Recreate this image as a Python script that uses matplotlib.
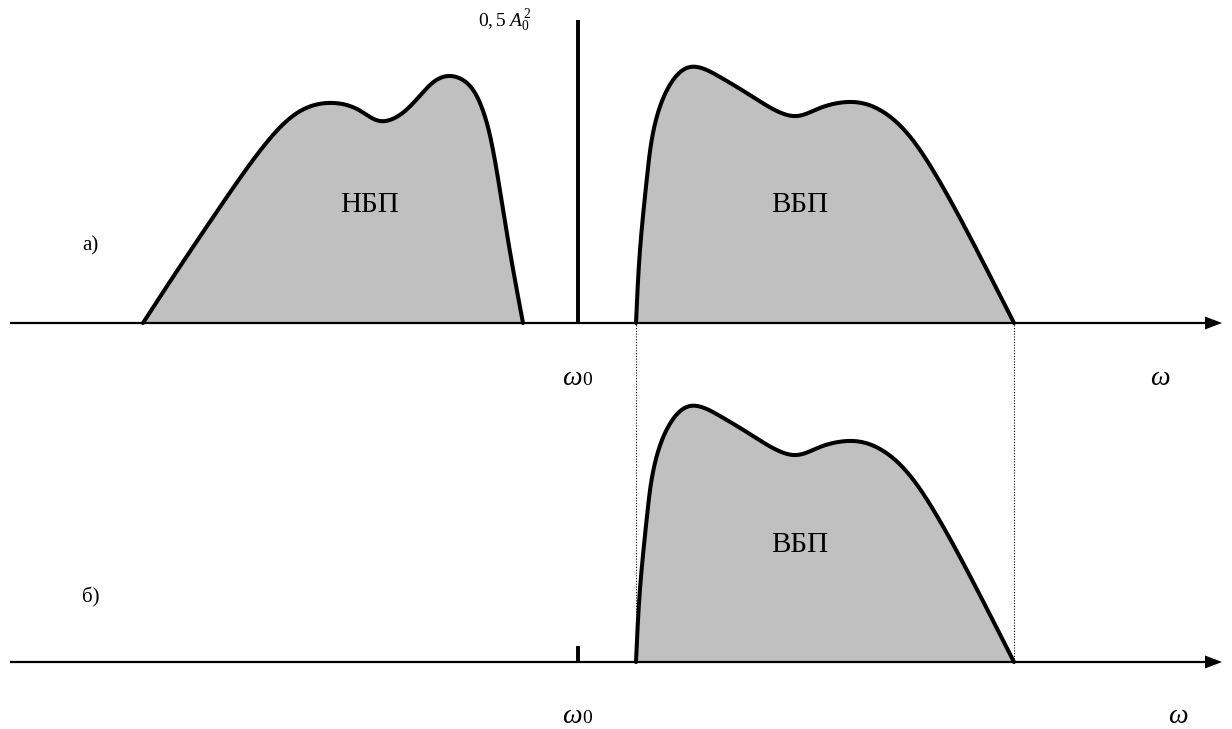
import numpy as np
import matplotlib
matplotlib.use("Agg")
import matplotlib.pyplot as plt

plt.rcParams['font.family'] = ['Liberation Serif', 'DejaVu Serif']
plt.rcParams['mathtext.fontset'] = 'custom'
plt.rcParams['mathtext.rm'] = 'Liberation Serif'
plt.rcParams['mathtext.it'] = 'Liberation Serif:italic'

# Spectrum shapes (frequency position, amplitude above the baseline)
lsb_x = [143, 173, 220, 263, 297, 327, 357, 380, 405, 430, 448, 467, 482, 493, 508, 523]
lsb_h = [0, 46, 116, 176, 210, 220, 214, 202, 212, 238, 247, 240, 215, 173, 83, 0]
usb_x = [636, 640, 647, 653, 667, 690, 720, 753, 793, 820, 853, 880, 907, 937, 970, 1014]
usb_h = [0, 73, 146, 190, 233, 256, 246, 226, 207, 215, 221, 213, 190, 146, 86, 0]
carrier_x = 578
carrier_h_a = 303
carrier_h_b = 16
labels_band = ["НБП", "ВБП", "ВБП"]
panel_labels = ["а)", "б)"]

W, H = 1232, 729
fig = plt.figure(figsize=(W / 100, H / 100), dpi=100)
ax = fig.add_axes([0, 0, 1, 1])
ax.set_xlim(0, W)
ax.set_ylim(0, H)
ax.axis('off')

base_a = H - 323
base_b = H - 662


def natural_spline(t, y, tt):
    n = len(t)
    h = np.diff(t)
    A = np.zeros((n, n))
    r = np.zeros(n)
    A[0, 0] = A[-1, -1] = 1.0
    for i in range(1, n - 1):
        A[i, i - 1] = h[i - 1]
        A[i, i] = 2 * (h[i - 1] + h[i])
        A[i, i + 1] = h[i]
        r[i] = 6 * ((y[i + 1] - y[i]) / h[i] - (y[i] - y[i - 1]) / h[i - 1])
    M = np.linalg.solve(A, r)
    idx = np.clip(np.searchsorted(t, tt) - 1, 0, n - 2)
    t0, t1 = t[idx], t[idx + 1]
    hi = t1 - t0
    a = (t1 - tt) / hi
    b = (tt - t0) / hi
    return (a * y[idx] + b * y[idx + 1]
            + ((a ** 3 - a) * M[idx] + (b ** 3 - b) * M[idx + 1]) * hi ** 2 / 6)


def smooth_curve(xs, ys):
    x = np.asarray(xs, float)
    y = np.asarray(ys, float)
    d = np.sqrt(np.hypot(np.diff(x), np.diff(y)))
    t = np.concatenate([[0], np.cumsum(d)])
    tt = np.linspace(0, t[-1], 800)
    return natural_spline(t, x, tt), natural_spline(t, y, tt)


def draw_band(xs, hs, base):
    cx, cy = smooth_curve(xs, hs)
    cy = np.maximum(cy, 0) + base
    ax.fill(cx, cy, facecolor='#c0c0c0', edgecolor='none', zorder=1)
    ax.plot(cx, cy, color='black', lw=2.9, solid_capstyle='round',
            solid_joinstyle='round', zorder=3)


def draw_axis(base):
    ax.plot([10, 1208], [base, base], color='black', lw=1.6, zorder=2, solid_capstyle='butt')
    ax.fill([1205, 1222, 1205], [base + 6.5, base, base - 6.5], color='black', lw=0, zorder=2)


draw_axis(base_a)
draw_axis(base_b)

draw_band(lsb_x, lsb_h, base_a)
draw_band(usb_x, usb_h, base_a)
draw_band(usb_x, usb_h, base_b)

# carrier
ax.plot([carrier_x, carrier_x], [base_a, base_a + carrier_h_a], color='black', lw=2.8,
        solid_capstyle='butt', zorder=3)
ax.plot([carrier_x, carrier_x], [base_b, base_b + carrier_h_b], color='black', lw=2.8,
        solid_capstyle='butt', zorder=3)

# dotted guide lines
for xg in [usb_x[0], usb_x[-1]]:
    ax.plot([xg, xg], [base_b, base_a], color='black', lw=0.8, ls=(0, (1, 1.5)), zorder=2)

# texts
ax.text(478, H - 27, r"$0,5\;A_{0}^{\,2}$", fontsize=14, ha='left', va='baseline')
ax.text(370, H - 205, labels_band[0], fontsize=21, ha='center', va='center')
ax.text(800, H - 205, labels_band[1], fontsize=21, ha='center', va='center')
ax.text(800, H - 545, labels_band[2], fontsize=21, ha='center', va='center')
ax.text(82, H - 246, panel_labels[0], fontsize=15, ha='left', va='center')
ax.text(82, H - 597, panel_labels[1], fontsize=15, ha='left', va='center')

for (xw, yb) in [(562, 385), (562, 723)]:
    ax.text(xw, H - yb, "ω", fontsize=20, style='italic', ha='left', va='baseline')
    ax.text(xw + 20, H - yb, "0", fontsize=14, ha='left', va='baseline')
ax.text(1150, H - 385, "ω", fontsize=20, style='italic', ha='left', va='baseline')
ax.text(1168, H - 723, "ω", fontsize=20, style='italic', ha='left', va='baseline')

fig.savefig("out.png", dpi=100, facecolor='white')
